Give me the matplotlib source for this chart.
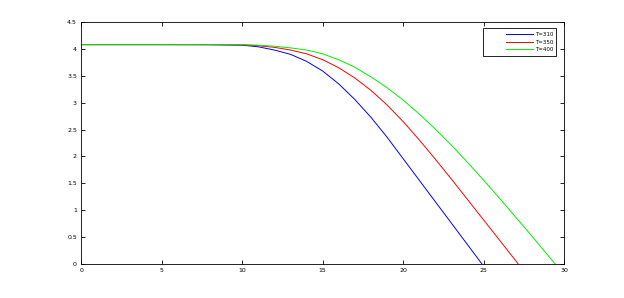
import numpy as np
import matplotlib
matplotlib.use('Agg')
import matplotlib.pyplot as plt
from matplotlib.legend_handler import HandlerLine2D

# I-V curves, one per temperature
v_310 = [0, 5, 8, 10, 11, 12, 13, 14, 15, 16, 17, 18, 19, 20, 21, 22, 23, 24, 24.9]
i_310 = [4.08, 4.08, 4.078, 4.07, 4.04, 3.98, 3.90, 3.77, 3.59, 3.35, 3.06, 2.73, 2.36, 1.96,
         1.56, 1.16, 0.76, 0.36, 0.0]

v_350 = [0, 5, 8, 10, 11, 12, 13, 14, 15, 16, 17, 18, 19, 20, 21, 22, 23, 24, 25, 26, 27, 27.15]
i_350 = [4.08, 4.08, 4.08, 4.075, 4.06, 4.03, 3.98, 3.91, 3.80, 3.65, 3.46, 3.23, 2.96, 2.65,
         2.31, 1.95, 1.58, 1.20, 0.82, 0.44, 0.06, 0.0]

v_400 = [0, 5, 8, 10, 11, 12, 13, 14, 15, 16, 17, 18, 19, 20, 21, 22, 23, 24, 25, 26, 27, 28,
         29, 29.45]
i_400 = [4.08, 4.08, 4.08, 4.08, 4.07, 4.05, 4.02, 3.98, 3.91, 3.80, 3.66, 3.48, 3.28, 3.05,
         2.79, 2.51, 2.21, 1.89, 1.56, 1.22, 0.87, 0.52, 0.16, 0.0]

labels = ['T=310', 'T=350', 'T=400']
xticks = [0, 5, 10, 15, 20, 25, 30]
yticks = [0, 0.5, 1, 1.5, 2, 2.5, 3, 3.5, 4, 4.5]


class ShiftedLine(HandlerLine2D):
    # matlab style legend: empty space left of the sample line
    def create_artists(self, legend, orig_handle, xdescent, ydescent, width, height,
                       fontsize, trans):
        shift = width * 0.42
        return super().create_artists(legend, orig_handle, xdescent - shift, ydescent,
                                      width - shift, height, fontsize, trans)


fig = plt.figure(figsize=(6.24, 2.98), dpi=100)
ax = fig.add_axes([0.13, 0.114, 0.774, 0.812])

ax.plot(v_310, i_310, color='#0000ff', lw=0.7, label=labels[0])
ax.plot(v_350, i_350, color='#ff0000', lw=0.7, label=labels[1])
ax.plot(v_400, i_400, color='#00ee00', lw=0.7, label=labels[2])

ax.set_xlim(0, 30)
ax.set_ylim(0, 4.5)
ax.set_xticks(xticks)
ax.set_xticklabels([str(t) for t in xticks])
ax.set_yticks(yticks)
ax.set_yticklabels([f'{t:g}' for t in yticks])
ax.tick_params(direction='in', length=3, width=0.6, labelsize=4.5,
               top=True, right=True, pad=3)
for s in ax.spines.values():
    s.set_linewidth(0.6)

leg = ax.legend(loc='upper right', fontsize=4, handlelength=8.5,
                fancybox=False, edgecolor='black', framealpha=1,
                borderpad=0.6, labelspacing=0.5, handletextpad=0.3,
                bbox_to_anchor=(0.99, 0.985),
                handler_map={plt.Line2D: ShiftedLine()})
leg.get_frame().set_linewidth(0.6)

fig.savefig('out.png', dpi=100)
